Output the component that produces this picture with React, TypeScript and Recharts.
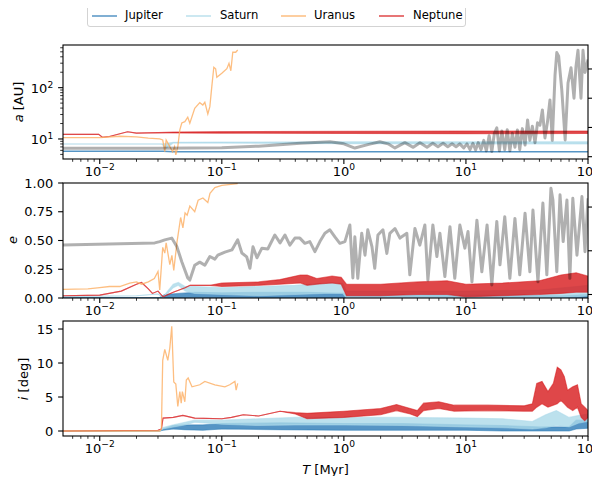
import React from 'react';
import { ComposedChart, Line, Area, XAxis, YAxis } from 'recharts';

const names = ['Jupiter', 'Saturn', 'Uranus', 'Neptune'];
const colors = ['#2c7bb6', '#abd9e9', '#fdae61', '#d7191c'];

// time axis, Myr (log)
const xDomain = [0.005, 100];
const xMajor = [0.01, 0.1, 1, 10, 100];
const xMinor = [
  0.006, 0.007, 0.008, 0.009, 0.02, 0.03, 0.04, 0.05, 0.06, 0.07, 0.08, 0.09,
  0.2, 0.3, 0.4, 0.5, 0.6, 0.7, 0.8, 0.9, 2, 3, 4, 5, 6, 7, 8, 9,
  20, 30, 40, 50, 60, 70, 80, 90,
];

const aDomain = [4.07, 679];
const aMajor = [10, 100];
const aMinor = [5, 6, 7, 8, 9, 20, 30, 40, 50, 60, 70, 80, 90, 200, 300, 400, 500, 600];
const twinADomain = [-1.97, 95.5];
const twinATicks = [0, 25, 50, 75];

const eDomain = [0, 1];
const eTicks = [0, 0.25, 0.5, 0.75, 1];
const twinEDomain = [2.92, 5.55];
const twinETicks = [3, 4, 5];

const iDomain = [-0.735, 16.18];
const iTicks = [0, 5, 10, 15];

// semi-major axis [T, a] or [T, low, high]
const jupiterA = [[0.005, 5.75], [0.033, 5.75], [0.04, 5.65], [100, 5.65]];
const saturnA = [
  [0.005, 8.0, 8.0], [0.032, 8.0, 8.0], [0.035, 6.6, 8.2], [0.04, 8.3, 8.6],
  [0.1, 8.3, 8.7], [1, 8.1, 8.8], [100, 8.0, 8.8],
];
const uranusA = [
  [0.005, 10.6], [0.01, 10.6], [0.0146, 11.3], [0.02, 11.0], [0.025, 10.4], [0.031, 10.0],
  [0.0328, 9.56], [0.0341, 5.65], [0.035, 9.5], [0.0375, 7.08], [0.0395, 5.65], [0.041, 7.08],
  [0.042, 4.88], [0.0436, 7.08], [0.0453, 15], [0.047, 20.5], [0.0498, 21.7], [0.0526, 26.5],
  [0.0547, 20.2], [0.06, 39.6], [0.066, 51], [0.0699, 46], [0.0726, 52], [0.0768, 30.7],
  [0.0798, 42.7], [0.0828, 104.7], [0.086, 250], [0.089, 234], [0.091, 160], [0.1, 191],
  [0.11, 234], [0.1145, 299], [0.1186, 214], [0.123, 490], [0.13, 490], [0.135, 543],
];
const neptuneA = [
  [0.005, 12.3, 12.3], [0.0098, 12.3, 12.3], [0.0105, 10.8, 10.8], [0.012, 11.2, 11.2],
  [0.0169, 13.8, 13.8], [0.02, 13.0, 13.0], [0.03, 13.3, 13.3], [0.04, 13.1, 13.6],
  [0.1, 13.0, 13.9], [1, 12.8, 14.1], [10, 12.7, 14.3], [100, 12.8, 14.3],
];
const twinA = [
  [0.005, 7.2], [0.03, 7.2], [0.1, 7.6], [0.2, 9.0], [0.44, 11.5], [0.77, 12.8], [1.0, 11.0],
  [1.23, 7.4], [1.6, 10.5], [1.97, 12.8], [2.3, 11.0], [2.62, 7.5], [3.16, 12.0], [3.7, 8.0],
  [4.2, 12.0], [4.8, 8.0], [5.35, 11.5], [5.9, 8.5], [6.5, 11.5], [7.1, 8.5], [7.7, 11.0],
  [8.3, 8.5], [8.9, 11.0], [9.6, 7.5], [10.2, 11.0], [10.8, 6.0], [11.4, 11.5], [12, 5.7],
  [12.6, 12], [13.3, 6], [14, 14], [14.7, 5], [15.5, 18], [16.3, 4.5], [17.1, 20], [17.9, 24.6],
  [18.8, 5], [19.7, 22], [20.8, 6], [21.8, 23], [22.9, 5], [24, 20], [25.2, 8], [26.4, 22.9],
  [27.6, 6], [29, 24], [30.5, 10], [32, 31.4], [33.4, 14], [35, 26], [36.8, 12], [38.6, 29],
  [40.4, 27], [42.3, 40], [44.4, 16], [46.6, 30], [48.8, 48.5], [51, 14], [53.7, 70], [55.5, 89],
  [57.5, 86], [61, 57], [65, 14.3], [68.6, 63], [72.6, 76], [76.8, 50], [79.7, 77], [82.8, 91],
  [87.6, 50], [91, 91], [94.5, 72], [100, 83],
];

// eccentricity
const jupiterE = [
  [0.005, 0.002, 0.004], [0.031, 0.002, 0.004], [0.034, 0.0, 0.03], [0.045, 0.0, 0.04],
  [0.06, 0.005, 0.05], [0.1, 0.0, 0.045], [0.2, 0.0, 0.05], [0.5, 0.0, 0.05], [1.0, 0.0, 0.04],
  [1.1, 0.0, 0.02], [3, 0.0, 0.025], [5, 0.0, 0.03], [10, 0.0, 0.025], [30, 0.0, 0.025],
  [60, 0.0, 0.02], [100, 0.0, 0.03],
];
const saturnE = [
  [0.005, 0.012, 0.012], [0.02, 0.02, 0.02], [0.03, 0.035, 0.035], [0.033, 0.005, 0.01],
  [0.036, 0.04, 0.06], [0.04, 0.09, 0.12], [0.044, 0.11, 0.135], [0.05, 0.06, 0.1],
  [0.06, 0.04, 0.1], [0.1, 0.03, 0.09], [0.2, 0.02, 0.1], [0.4, 0.03, 0.11], [0.7, 0.04, 0.13],
  [0.98, 0.04, 0.13], [1.05, 0.0, 0.06], [10, 0.0, 0.06], [40, 0.0, 0.07], [80, 0.01, 0.1],
  [100, 0.02, 0.11],
];
const uranusE = [
  [0.005, 0.075], [0.008, 0.08], [0.01, 0.09], [0.012, 0.1], [0.0146, 0.1], [0.0176, 0.13],
  [0.02, 0.14], [0.022, 0.12], [0.025, 0.14], [0.028, 0.17], [0.03, 0.23], [0.031, 0.07],
  [0.0328, 0.44], [0.0341, 0.39], [0.035, 0.48], [0.0375, 0.29], [0.039, 0.37], [0.0404, 0.24],
  [0.043, 0.49], [0.046, 0.7], [0.048, 0.61], [0.05, 0.74], [0.052, 0.72], [0.0547, 0.8],
  [0.06, 0.75], [0.064, 0.85], [0.07, 0.87], [0.0768, 0.83], [0.08, 0.91], [0.0877, 0.96],
  [0.1, 0.98], [0.135, 0.995],
];
const neptuneE = [
  [0.005, 0.02, 0.02], [0.01, 0.025, 0.025], [0.015, 0.06, 0.06], [0.02, 0.12, 0.12],
  [0.022, 0.135, 0.135], [0.025, 0.08, 0.08], [0.027, 0.04, 0.04], [0.03, 0.06, 0.06],
  [0.033, 0.01, 0.01], [0.04, 0.05, 0.05], [0.05, 0.09, 0.09], [0.055, 0.11, 0.11],
  [0.08, 0.11, 0.11], [0.1, 0.1, 0.13], [0.2, 0.11, 0.14], [0.3, 0.12, 0.16], [0.44, 0.13, 0.2],
  [0.5, 0.11, 0.2], [0.6, 0.12, 0.17], [0.8, 0.13, 0.19], [0.95, 0.12, 0.18], [1.05, 0.02, 0.12],
  [2, 0.02, 0.12], [4, 0.03, 0.14], [7, 0.03, 0.15], [10, 0.01, 0.12], [20, 0.02, 0.13],
  [40, 0.03, 0.15], [60, 0.04, 0.2], [80, 0.05, 0.22], [100, 0.05, 0.19],
];
const twinE = [
  [0.005, 4.13], [0.0282, 4.18], [0.031, 4.21], [0.0341, 4.25], [0.0389, 4.29], [0.0429, 4.09],
  [0.047, 3.75], [0.0526, 3.38], [0.0547, 3.33], [0.06, 3.67], [0.066, 3.74], [0.0726, 3.67],
  [0.0798, 3.87], [0.0877, 3.81], [0.0928, 3.9], [0.106, 3.97], [0.121, 4.02], [0.135, 4.25],
  [0.146, 3.95], [0.16, 3.86], [0.17, 3.6], [0.18, 4.09], [0.194, 3.84], [0.213, 4.06],
  [0.238, 4.04], [0.272, 4.36], [0.3, 4.18], [0.329, 4.36], [0.361, 4.13], [0.397, 4.29],
  [0.436, 4.29], [0.479, 4.17], [0.526, 4.21], [0.579, 3.98], [0.636, 4.21], [0.699, 4.4],
  [0.768, 4.48], [0.844, 4.32], [0.927, 4.17], [1.02, 4.21], [1.12, 4.59], [1.185, 3.38],
  [1.23, 4.32], [1.3, 3.37], [1.4, 4.4], [1.49, 3.9], [1.57, 4.48], [1.7, 4.09], [1.79, 3.6],
  [1.9, 4.36], [2.09, 4.48], [2.25, 3.94], [2.38, 4.4], [2.62, 4.51], [2.88, 4.29], [3.28, 4.4],
  [3.47, 3.45], [3.82, 4.51], [4.19, 4.13], [4.61, 4.59], [4.88, 3.33], [5.36, 4.59],
  [5.78, 3.87], [6.12, 4.4], [6.72, 3.41], [7.4, 4.55], [8.1, 3.37], [8.92, 4.59], [9.8, 4.06],
  [10.4, 4.44], [11.2, 3.29], [12.3, 4.7], [13.5, 3.52], [14.9, 4.59], [16.3, 3.22],
  [17.9, 4.67], [19, 3.68], [20.8, 4.78], [22.9, 3.37], [25.2, 4.74], [27.6, 3.45], [30.5, 4.86],
  [33.4, 3.52], [35.4, 4.93], [38.9, 3.29], [42.7, 5.09], [46, 3.45], [49.7, 5.43], [51.6, 5.16],
  [55.5, 3.52], [59, 5.28], [62.6, 4.21], [67.2, 5.16], [71, 3.37], [75.1, 5.2], [81.2, 3.9],
  [89.2, 5.24], [94.5, 3.98], [100, 5.2],
];

// inclination, deg
const jupiterI = [
  [0.005, 0, 0], [0.031, 0, 0], [0.033, 0.1, 0.3], [0.04, 0.3, 0.8], [0.05, 0.2, 0.9],
  [0.07, 0.1, 0.9], [0.1, 0.3, 1.1], [0.3, 0.2, 1.2], [1, 0.1, 1.1], [3, 0.1, 1.1],
  [10, 0.1, 0.9], [20, 0.0, 0.8], [40, 0.0, 0.6], [70, 0.0, 0.6], [80, 0.3, 1.6], [100, 0.4, 1.6],
];
const saturnI = [
  [0.005, 0, 0], [0.031, 0, 0], [0.033, 0.3, 0.5], [0.04, 0.6, 0.9], [0.05, 0.9, 1.3],
  [0.06, 1.3, 1.6], [0.1, 1.0, 1.6], [0.2, 0.8, 1.8], [0.4, 0.9, 2.0], [1, 0.9, 2.0],
  [3, 0.8, 2.0], [10, 0.6, 1.9], [20, 0.5, 1.8], [35, 0.3, 1.4], [45, 0.5, 2.4], [55, 0.8, 3.0],
  [70, 0.6, 2.0], [85, 1.2, 2.3], [100, 1.4, 2.5],
];
const uranusI = [
  [0.005, 0], [0.031, 0], [0.032, 0.3], [0.0328, 10.4], [0.0341, 12], [0.0361, 10.4],
  [0.0375, 12.2], [0.0389, 15.4], [0.0404, 7.2], [0.042, 6.9], [0.0436, 3.6], [0.0453, 5.8],
  [0.0465, 4.1], [0.0475, 5.8], [0.0498, 4.3], [0.0512, 7.5], [0.053, 7.8], [0.057, 6.5],
  [0.066, 6.8], [0.0726, 7.3], [0.0877, 6.8], [0.106, 6.5], [0.116, 6.8], [0.128, 7.3],
  [0.131, 6.0], [0.135, 7.0],
];
const neptuneI = [
  [0.005, 0, 0], [0.03, 0.1, 0.1], [0.032, 0.3, 0.3], [0.033, 1.9, 1.9], [0.04, 2.0, 2.0],
  [0.048, 2.3, 2.3], [0.06, 1.9, 1.9], [0.1, 1.8, 1.8], [0.12, 2.0, 2.0], [0.15, 2.4, 2.4],
  [0.2, 2.2, 2.2], [0.3, 2.9, 2.9], [0.4, 2.5, 2.7], [0.5, 1.8, 2.6], [1, 2.0, 2.9],
  [2, 2.4, 3.3], [2.7, 3.0, 3.9], [3.5, 2.5, 3.3], [4, 2.1, 3.0], [4.5, 3.0, 4.1],
  [6, 3.3, 4.3], [8, 2.9, 3.8], [15, 3.0, 3.8], [30, 2.9, 3.7], [35, 2.9, 4.0], [38, 3.5, 7.0],
  [42, 4.0, 7.3], [47, 3.5, 5.8], [52, 3.8, 7.0], [56, 4.0, 9.4], [60, 4.5, 9.0], [64, 4.0, 8.0],
  [68, 3.5, 6.0], [75, 3.0, 6.5], [82, 3.5, 6.8], [88, 2.0, 4.0], [94, 1.5, 3.5], [100, 2.0, 3.0],
];

const FONT = "'DejaVu Sans', sans-serif";
const FS = 13;
const SUP = 9.1;
const LEG_FS = 11.6;

const toLine = (rows: number[][]) => rows.map(([t, v]) => ({ t, v }));
const toBand = (rows: number[][]) => rows.map(([t, lo, hi]) => ({ t, r: [lo, hi] }));
const inside = (vals: number[], d: number[]) => vals.filter((v) => v >= d[0] && v <= d[1]);
const expText = (v: number) => {
  const p = Math.round(Math.log10(v));
  return p < 0 ? '\u2212' + -p : String(p);
};

function XTick(props: any) {
  const { x, y, payload } = props;
  const v = payload.value;
  const major = xMajor.includes(v);
  return (
    <g>
      <line x1={x} x2={x} y1={y} y2={y + (major ? 4.9 : 2.8)} stroke="#000" strokeWidth={major ? 1.1 : 0.8} />
      {major && (
        <text x={x} y={y + 16.5} textAnchor="middle" fontFamily={FONT} fontSize={FS} fill="#000">
          10<tspan dy={-5.5} fontSize={SUP}>{expText(v)}</tspan>
        </text>
      )}
    </g>
  );
}

function leftTick(majors: number[] | null, fmt: (v: number) => string) {
  return (props: any) => {
    const { x, y, payload } = props;
    const v = payload.value;
    const major = majors ? majors.includes(v) : true;
    return (
      <g>
        <line x1={x} x2={x - (major ? 4.9 : 2.8)} y1={y} y2={y} stroke="#000" strokeWidth={major ? 1.1 : 0.8} />
        {major && majors && (
          <text x={x - 9.8} y={y + 5.5} textAnchor="end" fontFamily={FONT} fontSize={FS} fill="#000">
            10<tspan dy={-5.5} fontSize={SUP}>{expText(v)}</tspan>
          </text>
        )}
        {major && !majors && (
          <text x={x - 9.8} y={y + 4.7} textAnchor="end" fontFamily={FONT} fontSize={FS} fill="#000">
            {fmt(v)}
          </text>
        )}
      </g>
    );
  };
}

function RightTick(props: any) {
  const { x, y, payload } = props;
  return (
    <g>
      <line x1={x} x2={x + 4.9} y1={y} y2={y} stroke="#000" strokeWidth={1.1} />
      <text x={x + 9.8} y={y + 4.7} textAnchor="start" fontFamily={FONT} fontSize={FS} fill="#000">
        {String(payload.value)}
      </text>
    </g>
  );
}

const xAxis = () => (
  <XAxis
    dataKey="t"
    type="number"
    scale="log"
    domain={xDomain}
    allowDataOverflow
    ticks={[...xMajor, ...xMinor]}
    interval={0}
    tick={XTick}
    tickLine={false}
    axisLine={false}
    tickSize={0}
    tickMargin={0}
    height={22}
  />
);

const band = (rows: number[][], k: number) => (
  <Area
    key={names[k]}
    yAxisId="left"
    data={toBand(rows)}
    dataKey="r"
    type="linear"
    stroke={colors[k]}
    strokeOpacity={0.55}
    strokeWidth={1.1}
    fill={colors[k]}
    fillOpacity={0.8}
    isAnimationActive={false}
    dot={false}
    activeDot={false}
  />
);

const line = (rows: number[][], k: number, width = 1.3) => (
  <Line
    key={names[k]}
    yAxisId="left"
    data={toLine(rows)}
    dataKey="v"
    type="linear"
    stroke={colors[k]}
    strokeOpacity={0.8}
    strokeWidth={width}
    dot={false}
    activeDot={false}
    isAnimationActive={false}
  />
);

const twinLine = (rows: number[][]) => (
  <Line
    yAxisId="right"
    data={toLine(rows)}
    dataKey="v"
    type="linear"
    stroke="#000"
    strokeOpacity={0.31}
    strokeWidth={3}
    strokeLinejoin="round"
    dot={false}
    activeDot={false}
    isAnimationActive={false}
  />
);

const panels = [
  { top: 45, h: 114 },
  { top: 183, h: 115 },
  { top: 321, h: 115 },
];

// legend layout (page px): handle start and text start per entry
const legendHandleX = [4, 98, 193, 291];
const legendTextX = [37, 132, 226, 325];

export default function App() {
  return (
    <div style={{ position: 'relative', margin: -8, width: 600, height: 484, overflow: 'hidden', background: '#fff' }}>
      {/* a [AU] */}
      <div style={{ position: 'absolute', left: 0, top: panels[0].top - 10 }}>
        <ComposedChart width={600} height={panels[0].h + 32} margin={{ top: 10, right: 0, bottom: 0, left: 0 }}>
          {xAxis()}
          <YAxis
            yAxisId="left"
            type="number"
            scale="log"
            domain={aDomain}
            allowDataOverflow
            ticks={inside([...aMajor, ...aMinor], aDomain)}
            interval={0}
            tick={leftTick(aMajor, String)}
            tickLine={false}
            axisLine={false}
            tickSize={0}
            tickMargin={0}
            width={63}
          />
          <YAxis
            yAxisId="right"
            orientation="right"
            type="number"
            domain={twinADomain}
            allowDataOverflow
            ticks={twinATicks}
            interval={0}
            tick={RightTick}
            tickLine={false}
            axisLine={false}
            tickSize={0}
            tickMargin={0}
            width={12}
          />
          {line(jupiterA, 0, 1.5)}
          {band(saturnA, 1)}
          {line(uranusA, 2)}
          {band(neptuneA, 3)}
          {twinLine(twinA)}
        </ComposedChart>
      </div>

      {/* e */}
      <div style={{ position: 'absolute', left: 0, top: panels[1].top - 10 }}>
        <ComposedChart width={600} height={panels[1].h + 32} margin={{ top: 10, right: 0, bottom: 0, left: 0 }}>
          {xAxis()}
          <YAxis
            yAxisId="left"
            type="number"
            domain={eDomain}
            allowDataOverflow
            ticks={eTicks}
            interval={0}
            tick={leftTick(null, (v) => v.toFixed(2))}
            tickLine={false}
            axisLine={false}
            tickSize={0}
            tickMargin={0}
            width={63}
          />
          <YAxis
            yAxisId="right"
            orientation="right"
            type="number"
            domain={twinEDomain}
            allowDataOverflow
            ticks={twinETicks}
            interval={0}
            tick={RightTick}
            tickLine={false}
            axisLine={false}
            tickSize={0}
            tickMargin={0}
            width={12}
          />
          {band(jupiterE, 0)}
          {band(saturnE, 1)}
          {line(uranusE, 2)}
          {band(neptuneE, 3)}
          {twinLine(twinE)}
        </ComposedChart>
      </div>

      {/* i [deg] */}
      <div style={{ position: 'absolute', left: 0, top: panels[2].top - 10 }}>
        <ComposedChart width={600} height={panels[2].h + 32} margin={{ top: 10, right: 12, bottom: 0, left: 0 }}>
          {xAxis()}
          <YAxis
            yAxisId="left"
            type="number"
            domain={iDomain}
            allowDataOverflow
            ticks={iTicks}
            interval={0}
            tick={leftTick(null, String)}
            tickLine={false}
            axisLine={false}
            tickSize={0}
            tickMargin={0}
            width={63}
          />
          {band(jupiterI, 0)}
          {band(saturnI, 1)}
          {line(uranusI, 2)}
          {band(neptuneI, 3)}
        </ComposedChart>
      </div>

      {/* frames and axis titles */}
      <svg width={600} height={484} style={{ position: 'absolute', left: 0, top: 0, pointerEvents: 'none' }}>
        {panels.map((p, k) => (
          <rect key={k} x={63} y={p.top} width={525} height={p.h} fill="none" stroke="#000" strokeWidth={1.1} />
        ))}
        <text transform="translate(23,102) rotate(-90)" textAnchor="middle" fontFamily={FONT} fontSize={FS}>
          <tspan fontStyle="italic">a</tspan> [AU]
        </text>
        <text transform="translate(17,240) rotate(-90)" textAnchor="middle" fontFamily={FONT} fontSize={FS} fontStyle="italic">
          e
        </text>
        <text transform="translate(27.5,379) rotate(-90)" textAnchor="middle" fontFamily={FONT} fontSize={FS}>
          <tspan fontStyle="italic">i</tspan> [deg]
        </text>
        <text x={325.5} y={474} textAnchor="middle" fontFamily={FONT} fontSize={FS}>
          <tspan fontStyle="italic">T</tspan> [Myr]
        </text>
      </svg>

      {/* legend */}
      <div
        style={{
          position: 'absolute',
          left: 87,
          top: 4,
          width: 377,
          height: 21,
          border: '1px solid #d3d3d3',
          borderRadius: 3,
          background: '#fff',
          fontFamily: FONT,
          fontSize: LEG_FS,
          color: '#000',
        }}
      >
        {names.map((n, k) => (
          <React.Fragment key={n}>
            <svg width={25} height={4} style={{ position: 'absolute', left: legendHandleX[k], top: 9 }}>
              <line x1={0} x2={25} y1={2} y2={2} stroke={colors[k]} strokeOpacity={0.8} strokeWidth={1.5} />
            </svg>
            <span style={{ position: 'absolute', left: legendTextX[k], top: 3, lineHeight: '14px', whiteSpace: 'nowrap' }}>
              {n}
            </span>
          </React.Fragment>
        ))}
      </div>
    </div>
  );
}
